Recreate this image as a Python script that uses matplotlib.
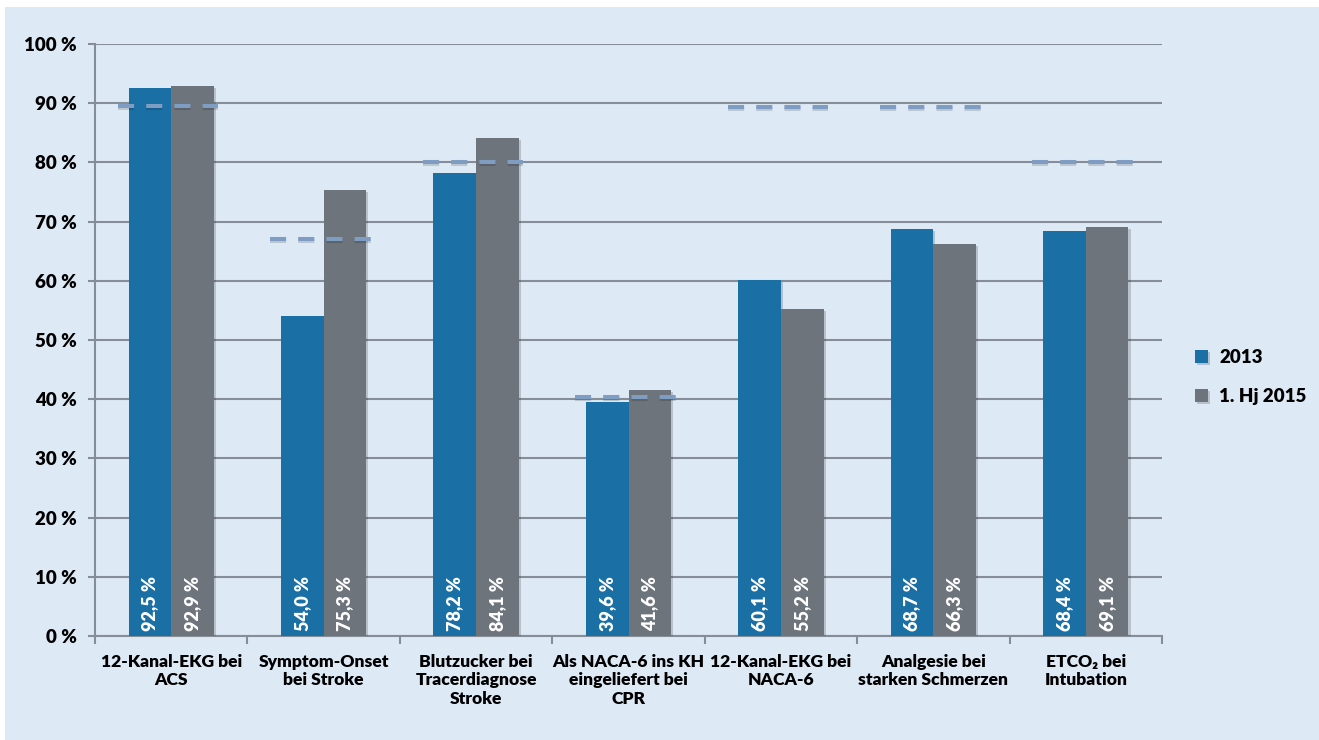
import matplotlib.pyplot as plt
import matplotlib.patheffects as pe
from matplotlib.patches import Rectangle
import numpy as np

plt.rcParams['font.family'] = ['Lato', 'DejaVu Sans']

# Data
categories = ["12-Kanal-EKG bei\nACS", "Symptom-Onset\nbei Stroke",
              "Blutzucker bei\nTracerdiagnose\nStroke", "Als NACA-6 ins KH\neingeliefert bei\nCPR",
              "12-Kanal-EKG bei\nNACA-6", "Analgesie bei\nstarken Schmerzen",
              "ETCO\u2082 bei\nIntubation"]
values_2013 = [92.5, 54.0, 78.2, 39.6, 60.1, 68.7, 68.4]
values_2015 = [92.9, 75.3, 84.1, 41.6, 55.2, 66.3, 69.1]
targets = [89.5, 67.0, 80.0, 40.4, 89.3, 89.3, 80.0]
series_names = ["2013", "1. Hj 2015"]

bg = "#dee9f6"
blue = "#1a6fa5"
gray = "#6e747b"
gridc = "#858e97"
dashc = "#7f9cc2"
fw = "heavy"

fig = plt.figure(figsize=(13.19, 7.40), dpi=100, facecolor="white")
fig.patches.append(Rectangle((5 / 1319, 0), 1, 1 - 7 / 740, transform=fig.transFigure,
                             facecolor=bg, edgecolor="none", zorder=-10))
ax = fig.add_axes([95 / 1319, 1 - 636 / 740, (1162 - 95) / 1319, (636 - 44) / 740])
ax.set_facecolor(bg)
ax.patch.set_alpha(0)

x = np.arange(len(categories))
w = 0.28
shadow = [pe.SimplePatchShadow(offset=(1.5, -1.5), alpha=0.2), pe.Normal()]
b1 = ax.bar(x - w / 2, values_2013, w, color=blue, zorder=3, label=series_names[0])
b2 = ax.bar(x + w / 2, values_2015, w, color=gray, zorder=3, label=series_names[1])
for b in list(b1) + list(b2):
    b.set_path_effects(shadow)

# target dashes
for i, t in enumerate(targets):
    ax.plot([i - 0.35, i + 0.31], [t, t], color=dashc, lw=2.9, linestyle=(0, (4, 3)),
            solid_capstyle="butt", zorder=4,
            path_effects=[pe.SimpleLineShadow(offset=(0, -1.5), alpha=0.15), pe.Normal()])

# value labels
for i in range(len(categories)):
    for xv, v in [(i - w / 2, values_2013[i]), (i + w / 2, values_2015[i])]:
        ax.text(xv, 0.8, f"{v:.1f} %".replace(".", ","), rotation=90, ha="center", va="bottom",
                color="white", fontsize=13, fontweight=fw, zorder=5)

ax.set_ylim(0, 100)
ax.set_xlim(-0.5, len(categories) - 0.5)
ax.set_yticks(range(0, 101, 10))
ax.set_yticklabels([f"{v} %" for v in range(0, 101, 10)], fontsize=13.5, fontweight=fw)
ax.yaxis.grid(True, color=gridc, lw=1.5, zorder=0)
ax.tick_params(axis="y", length=5, width=1.5, color=gridc, pad=8)

ax.set_xticks(np.arange(-0.5, len(categories), 1.0))
ax.set_xticklabels([])
ax.tick_params(axis="x", length=6, width=1.5, color=gridc)
for i, c in enumerate(categories):
    ax.text(i, -3.0, c, ha="center", va="top", fontsize=12.6, fontweight=fw,
            linespacing=1.2, transform=ax.transData)

for s in ["top", "right"]:
    ax.spines[s].set_visible(False)
for s in ["left", "bottom"]:
    ax.spines[s].set_color(gridc)
    ax.spines[s].set_linewidth(1.5)

leg = ax.legend(loc="center left", bbox_to_anchor=(1178 / 1319, 1 - 377 / 740),
                bbox_transform=fig.transFigure, frameon=False, handlelength=0.7,
                handleheight=0.7, handletextpad=0.6, labelspacing=1.2,
                prop={"weight": fw, "size": 13.5})

fig.savefig("out.png", dpi=100, facecolor=fig.get_facecolor())
